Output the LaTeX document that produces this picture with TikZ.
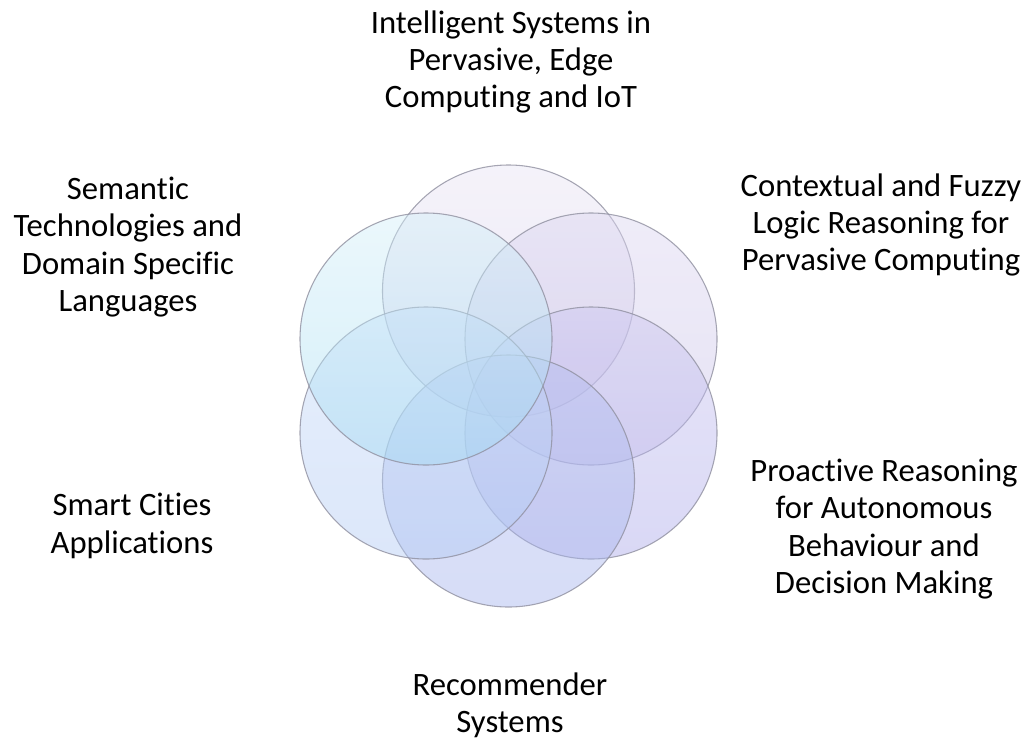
\documentclass[tikz,border=0pt]{standalone}
\usepackage{fontspec}
\setmainfont{Carlito}[Ligatures=CommonOff]
\usetikzlibrary{positioning,calc}

\definecolor{ringline}{HTML}{9090A0}
\definecolor{topA}{HTML}{E8E4F4}
\definecolor{topB}{HTML}{D2CAE8}
\definecolor{trA}{HTML}{DCD6F0}
\definecolor{trB}{HTML}{C8C0E8}
\definecolor{brA}{HTML}{CCC6F0}
\definecolor{brB}{HTML}{ACAAEA}
\definecolor{botA}{HTML}{B8C2F0}
\definecolor{botB}{HTML}{A6B4EE}
\definecolor{blA}{HTML}{C8DCF8}
\definecolor{blB}{HTML}{B2CAF4}
\definecolor{tlA}{HTML}{D4EFF8}
\definecolor{tlB}{HTML}{A2DAF2}

\begin{document}
\begin{tikzpicture}[x=0.75pt,y=-0.75pt,
    petal/.style={circle,minimum size=189pt,inner sep=0pt,draw=ringline,
        line width=0.8pt,fill opacity=0.46,draw opacity=0.8},
    topic/.style={align=center,font=\fontsize{24.5}{28}\selectfont}]
    \useasboundingbox (0,0) rectangle (1035,739);

    % Circles
    \node[petal,top color=topA,bottom color=topB] (ctop) at (508.5,291) {};
    \node[petal,top color=trA,bottom color=trB] (cright) at (591,339) {};
    \node[petal,top color=brA,bottom color=brB] (clowright) at (591,433) {};
    \node[petal,top color=botA,bottom color=botB] (cbottom) at (508.5,481) {};
    \node[petal,top color=blA,bottom color=blB] (clowleft) at (426,433) {};
    \node[petal,top color=tlA,bottom color=tlB] (cleft) at (426,339) {};

    % Topics
    \node[topic] (ttop) at (511,62) {Intelligent Systems in\\Pervasive, Edge\\Computing and IoT};
    \node[topic] (tright) at (881,225) {Contextual and Fuzzy\\Logic Reasoning for\\Pervasive Computing};
    \node[topic] (tlowright) at (884,529) {Proactive Reasoning\\for Autonomous\\Behaviour and\\Decision Making};
    \node[topic] (tbottom) at (510,705) {Recommender\\Systems};
    \node[topic] (tlowleft) at (132,526) {Smart Cities\\Applications};
    \node[topic] (tleft) at (128,247) {Semantic\\Technologies and\\Domain Specific\\Languages};
\end{tikzpicture}
\end{document}
